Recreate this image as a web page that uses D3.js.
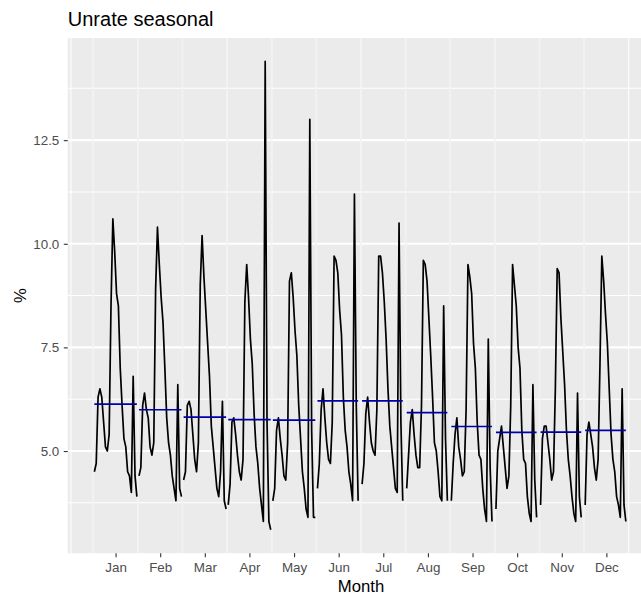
<!DOCTYPE html>
<html><head><meta charset="utf-8">
<script src="https://cdn.jsdelivr.net/npm/d3@7"></script>
<style>
body{margin:0;background:#fff}
svg{display:block}
text{font-family:"Liberation Sans",Arial,Helvetica,sans-serif}
</style>
</head><body>
<svg id="chart" width="641" height="598"></svg>
<script>
// Unemployment rate (not seasonally adjusted), by calendar month, one value per year from 2000
const months = ["Jan","Feb","Mar","Apr","May","Jun","Jul","Aug","Sep","Oct","Nov","Dec"];
const startYear = 2000;
const lastYear = 2023;
const jan = [4.5,4.7,6.3,6.5,6.3,5.7,5.1,5.0,5.4,8.5,10.6,9.8,8.8,8.5,7.0,6.1,5.3,5.1,4.5,4.4,4.0,6.8,4.4,3.9];
const feb = [4.4,4.6,6.1,6.4,6.0,5.8,5.1,4.9,5.2,8.9,10.4,9.5,8.7,8.1,7.0,5.8,5.2,4.9,4.4,4.1,3.8,6.6,4.1,3.9];
const mar = [4.3,4.5,6.1,6.2,6.0,5.4,4.8,4.5,5.2,9.0,10.2,9.2,8.4,7.6,6.8,5.6,5.1,4.6,4.1,3.9,4.5,6.2,3.8,3.6];
const apr = [3.7,4.2,5.7,5.8,5.4,4.9,4.5,4.3,4.8,8.6,9.5,8.7,7.7,7.1,5.9,5.1,4.7,4.1,3.7,3.3,14.4,5.7,3.3,3.1];
const may = [3.8,4.1,5.5,5.8,5.3,4.9,4.4,4.3,5.2,9.1,9.3,8.7,7.9,7.3,6.1,5.3,4.5,4.1,3.6,3.4,13.0,5.5,3.4,3.4];
const jun = [4.1,4.7,6.0,6.5,5.8,5.2,4.8,4.7,5.7,9.7,9.6,9.3,8.4,7.8,6.3,5.5,5.1,4.5,4.2,3.8,11.2,6.1,3.8];
const jul = [4.2,4.7,5.9,6.3,5.7,5.2,5.0,4.9,6.0,9.7,9.7,9.3,8.6,7.7,6.5,5.6,5.1,4.6,4.1,4.0,10.5,5.7,3.8];
const aug = [4.1,4.9,5.7,6.0,5.4,4.9,4.6,4.6,6.1,9.6,9.5,9.1,8.2,7.3,6.3,5.2,5.0,4.5,3.9,3.8,8.5,5.3,3.8];
const sep = [3.8,4.7,5.4,5.8,5.1,4.8,4.4,4.5,6.0,9.5,9.2,8.8,7.6,7.0,5.7,4.9,4.8,4.1,3.6,3.3,7.7,4.6,3.3];
const oct = [3.6,5.0,5.3,5.6,5.1,4.6,4.1,4.4,6.1,9.5,9.0,8.5,7.5,7.0,5.5,4.8,4.7,3.9,3.5,3.3,6.6,4.3,3.4];
const nov = [3.7,5.3,5.6,5.6,5.2,4.8,4.3,4.5,6.5,9.4,9.3,8.2,7.4,6.6,5.5,4.8,4.4,3.9,3.5,3.3,6.4,3.9,3.4];
const dec = [3.7,5.4,5.7,5.4,5.1,4.6,4.3,4.8,7.1,9.7,9.1,8.3,7.6,6.5,5.4,4.8,4.5,3.9,3.7,3.4,6.5,3.7,3.3];
const yTicks = [5.0, 7.5, 10.0, 12.5];
const title = "Unrate seasonal";
const xTitle = "Month";
const yTitle = "%";

const seriesByMonth = [jan,feb,mar,apr,may,jun,jul,aug,sep,oct,nov,dec];
const seasonWidth = (lastYear - startYear) * 1.05;

// build subseries points (as in forecast::ggsubseriesplot)
const groups = seriesByMonth.map((vals, i) => {
  const season = i + 1;
  const pts = vals.map((v, k) => ({x: season + 0.025 + k / seasonWidth, y: v}));
  return {season, pts, avg: d3.mean(vals)};
});
const allPts = groups.flatMap(g => g.pts);

function expand(ext, m = 0.05) { const r = ext[1] - ext[0]; return [ext[0] - m * r, ext[1] + m * r]; }
const xDom = expand(d3.extent(allPts, d => d.x));
const yDom = expand(d3.extent(allPts, d => d.y));

const pxPerUnitX = 44.62;
const pxPerUnitY = 41.45;
const panel = {left: 67.8, bottom: 553.2};
panel.right = panel.left + (xDom[1] - xDom[0]) * pxPerUnitX;
panel.top = panel.bottom - (yDom[1] - yDom[0]) * pxPerUnitY;

const x = d3.scaleLinear().domain(xDom).range([panel.left, panel.right]);
const y = d3.scaleLinear().domain(yDom).range([panel.bottom, panel.top]);

const svg = d3.select("#chart");

svg.append("rect").attr("x", panel.left).attr("y", panel.top)
  .attr("width", panel.right - panel.left).attr("height", panel.bottom - panel.top)
  .attr("fill", "#EBEBEB");

const grid = svg.append("g");
// minor horizontal
const yStep = yTicks[1] - yTicks[0];
const yMinor = [yTicks[0] - yStep / 2, ...yTicks.map(t => t + yStep / 2)].filter(v => v >= yDom[0] && v <= yDom[1]);
grid.selectAll(".ymin").data(yMinor).join("line")
  .attr("x1", panel.left).attr("x2", panel.right)
  .attr("y1", d => y(d)).attr("y2", d => y(d))
  .attr("stroke", "#fff").attr("stroke-width", 1.05);
// minor vertical
const xBreaks = months.map((m, i) => i + 1.5);
const xMinor = [xBreaks[0] - 1, ...d3.range(1, 14), xBreaks[xBreaks.length - 1] + 1].filter(v => v >= xDom[0] && v <= xDom[1]);
grid.selectAll(".xmin").data(xMinor).join("line")
  .attr("y1", panel.top).attr("y2", panel.bottom)
  .attr("x1", d => x(d)).attr("x2", d => x(d))
  .attr("stroke", "#fff").attr("stroke-width", 1.05);
// major horizontal
grid.selectAll(".ymaj").data(yTicks).join("line")
  .attr("x1", panel.left).attr("x2", panel.right)
  .attr("y1", d => y(d)).attr("y2", d => y(d))
  .attr("stroke", "#fff").attr("stroke-width", 2.1);
// season separators
grid.selectAll(".sep").data(d3.range(1, months.length + 1)).join("line")
  .attr("y1", panel.top).attr("y2", panel.bottom)
  .attr("x1", d => x(d)).attr("x2", d => x(d))
  .attr("stroke", "#F2F2F2").attr("stroke-width", 1.6);

const line = d3.line().x(d => x(d.x)).y(d => y(d.y));
const gl = svg.append("g");
gl.selectAll(".series").data(groups).join("path")
  .attr("d", g => line(g.pts))
  .attr("fill", "none").attr("stroke", "#000").attr("stroke-width", 1.7)
  .attr("stroke-linejoin", "round");
gl.selectAll(".avg").data(groups).join("path")
  .attr("d", g => line(g.pts.map(p => ({x: p.x, y: g.avg}))))
  .attr("fill", "none").attr("stroke", "#0000AA").attr("stroke-width", 1.7);

// axes
const xAxis = d3.axisBottom(x).tickValues(xBreaks).tickFormat((d, i) => months[i])
  .tickSize(4).tickPadding(5);
const gx = svg.append("g").attr("transform", `translate(0,${panel.bottom})`).call(xAxis);
const yAxis = d3.axisLeft(y).tickValues(yTicks).tickFormat(d3.format(".1f"))
  .tickSize(4).tickPadding(4.5);
const gy = svg.append("g").attr("transform", `translate(${panel.left},0)`).call(yAxis);
[gx, gy].forEach(g => {
  g.select(".domain").remove();
  g.selectAll(".tick line").attr("stroke", "#333333").attr("stroke-width", 1.1);
  g.selectAll(".tick text").attr("fill", "#4D4D4D").style("font-size", "13.4px")
    .style("font-family", '"Liberation Sans",Arial,Helvetica,sans-serif');
});

svg.append("text").attr("y", 592)
  .attr("text-anchor", "middle").style("font-size", "16.7px").attr("fill", "#000")
  .attr("x", x((xBreaks[0] + xBreaks[xBreaks.length - 1]) / 2))
  .text(xTitle);
svg.append("text")
  .attr("transform", `translate(26,${(panel.top + panel.bottom) / 2}) rotate(-90)`)
  .attr("text-anchor", "middle").style("font-size", "16.7px").attr("fill", "#000")
  .text(yTitle);
svg.append("text").attr("x", panel.left).attr("y", 26)
  .style("font-size", "20px").attr("fill", "#000").text(title);
</script>
</body></html>
